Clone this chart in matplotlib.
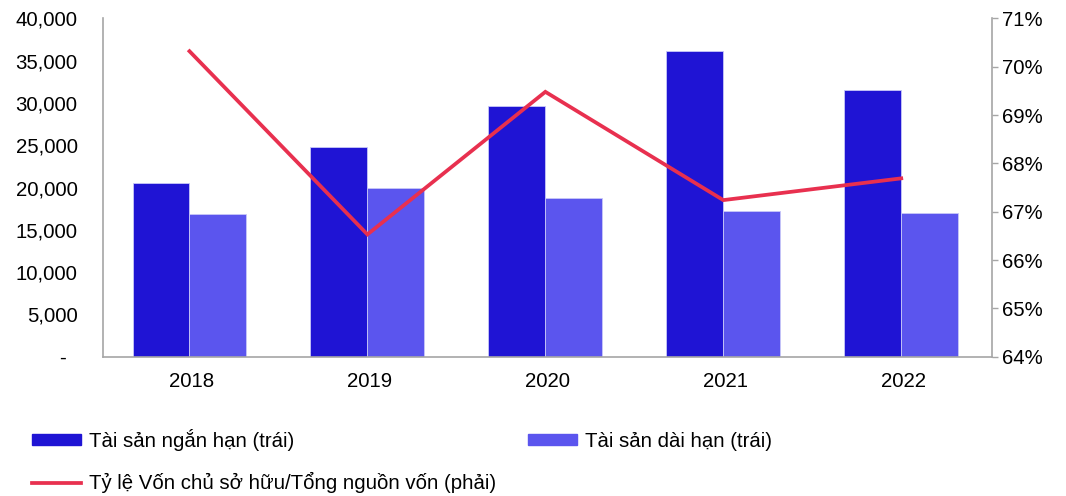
import matplotlib.pyplot as plt
import numpy as np
from matplotlib.ticker import FuncFormatter, PercentFormatter
from matplotlib.patches import Patch
from matplotlib.lines import Line2D

plt.rcParams['font.family'] = ['Liberation Sans', 'DejaVu Sans']

# Data
years = ["2018", "2019", "2020", "2021", "2022"]
short_term = [20570, 24750, 29670, 36130, 31560]   # Tài sản ngắn hạn (trái)
long_term = [16830, 19980, 18790, 17220, 16950]    # Tài sản dài hạn (trái)
equity_ratio = [70.32, 66.53, 69.48, 67.24, 67.69]  # Tỷ lệ VCSH/Tổng nguồn vốn (phải), %

labels = ["Tài sản ngắn hạn (trái)", "Tài sản dài hạn (trái)",
          "Tỷ lệ Vốn chủ sở hữu/Tổng nguồn vốn (phải)"]

c_dark = "#1f14d4"
c_light = "#5b55ee"
c_line = "#e8304f"
c_axis = "#a6a6a6"
fs = 14.7

fig = plt.figure(figsize=(10.66, 4.96), dpi=100)
ax = fig.add_axes([0.0963, 0.2808, 0.8346, 0.6822])

x = np.arange(len(years))
w = 0.32
ax.bar(x - w / 2 - 0.012, short_term, w, color=c_dark, edgecolor="#c8c8f8", linewidth=0.6)
ax.bar(x + w / 2 - 0.012, long_term, w, color=c_light, edgecolor="#c8c8f8", linewidth=0.6)

ax.set_xlim(-0.5, len(years) - 0.5)
ax.set_ylim(0, 40000)
ax.set_yticks(np.arange(0, 40001, 5000))
ax.yaxis.set_major_formatter(FuncFormatter(lambda v, p: "-  " if v == 0 else f"{v:,.0f}"))
ax.set_xticks(x)
ax.set_xticklabels(years)
ax.tick_params(axis="y", length=0, pad=18, labelsize=fs)
ax.tick_params(axis="x", length=0, pad=11, labelsize=fs)

for s in ["top", "right"]:
    ax.spines[s].set_visible(False)
for s in ["left", "bottom"]:
    ax.spines[s].set_color(c_axis)
    ax.spines[s].set_linewidth(1.2)

# right axis: equity ratio
ax2 = ax.twinx()
ax2.plot(x - 0.012, equity_ratio, color=c_line, linewidth=2.7, solid_joinstyle="miter")
ax2.set_ylim(64, 71)
ax2.set_yticks(np.arange(64, 71.1, 1))
ax2.yaxis.set_major_formatter(PercentFormatter(decimals=0))
ax2.tick_params(axis="y", length=4, width=1, color=c_axis, pad=3, labelsize=fs)
for s in ["top", "left", "bottom"]:
    ax2.spines[s].set_visible(False)
ax2.spines["right"].set_color(c_axis)
ax2.spines["right"].set_linewidth(1.2)

# legend: two entries on first row, line on second
handles = [Patch(color=c_dark), Line2D([], [], color=c_line, linewidth=2.7),
           Patch(color=c_light)]
fig.legend(handles, [labels[0], labels[2], labels[1]], ncol=2,
           loc="upper left", bbox_to_anchor=(0.022, 0.152), frameon=False,
           fontsize=fs, handlelength=2.4, handletextpad=0.4,
           labelspacing=1.05, columnspacing=1.55, borderaxespad=0,
           handleheight=0.5)

fig.savefig("out.png", dpi=100)
